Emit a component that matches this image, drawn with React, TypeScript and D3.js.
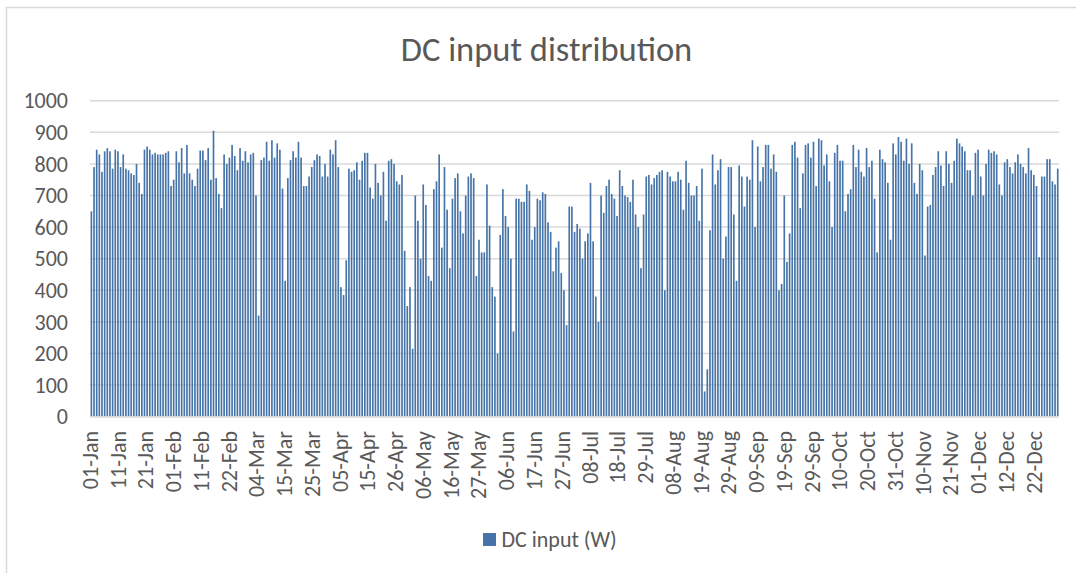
import React from "react";
import * as d3 from "d3";

// Daily peak DC input (W), one value per day
const jan = [650,790,845,830,775,840,850,840,785,845,840,790,830,785,780,770,765,800,740,705,845,855,845,830,835,830,830,830,835,840,730];
const feb = [750,840,805,850,770,860,770,750,730,785,842,842,812,850,750,905,755,705,660,830,800,820,860,825,780,850,810,840];
const mar = [805,830,835,700,320,812,820,870,810,875,820,865,845,722,430,755,812,840,820,870,820,730,730,760,790,812,830,825,760,800,760];
const apr = [845,830,875,790,410,385,495,785,775,780,805,750,810,835,835,725,690,800,740,700,775,620,810,815,800,745,735,765,525,350];
const may = [410,215,700,620,500,735,670,445,430,720,745,830,535,790,655,470,690,755,770,650,580,700,760,770,755,445,560,520,520,735,605];
const jun = [410,380,200,575,720,635,600,500,270,690,690,680,680,735,715,560,600,690,685,710,705,615,585,460,535,555,455,400,290,665];
const jul = [665,585,610,595,500,555,580,740,555,380,300,700,645,730,750,705,690,635,780,730,700,695,680,750,640,600,470,640,760,765,735];
const aug = [755,765,775,780,400,775,760,745,745,775,750,655,810,740,700,700,730,620,785,80,150,590,830,735,780,815,500,570,790,790,640];
const sep = [430,795,760,665,760,750,875,600,855,745,790,860,860,785,830,775,400,420,700,490,580,860,870,820,660,770,860,865,820,870];
const oct = [730,880,875,795,830,745,600,835,860,810,810,650,705,720,860,790,845,775,760,850,790,810,690,520,845,815,805,740,560,865,830];
const nov = [885,870,810,880,800,865,740,705,800,780,510,665,670,765,790,840,795,730,840,800,740,810,880,865,855,840,780,780,700,835];
const dec = [845,760,700,800,845,835,840,830,735,700,805,815,790,770,805,830,800,790,770,850,780,765,730,505,760,760,815,815,745,735,785];

const dailyPeak = [...jan, ...feb, ...mar, ...apr, ...may, ...jun, ...jul, ...aug, ...sep, ...oct, ...nov, ...dec];

const xTickLabels = ["01-Jan","11-Jan","21-Jan","01-Feb","11-Feb","22-Feb","04-Mar","15-Mar","25-Mar","05-Apr","15-Apr","26-Apr","06-May","16-May","27-May","06-Jun","17-Jun","27-Jun","08-Jul","18-Jul","29-Jul","08-Aug","19-Aug","29-Aug","09-Sep","19-Sep","29-Sep","10-Oct","20-Oct","31-Oct","10-Nov","21-Nov","01-Dec","12-Dec","22-Dec"];
const yTicks = [0,100,200,300,400,500,600,700,800,900,1000];

const title = "DC input distribution";
const seriesName = "DC input (W)";

const HOURS = 8760;
const LABEL_INTERVAL = 251; // hours between category labels
const SUN_START = 5;
const SUN_END = 20;

const W = 1076, H = 573;
const M = { left: 90, right: 1059, top: 100.7, bottom: 416.7 };
const FONT = "Calibri, Carlito, Lato, sans-serif";
const TEXT = "#595959";
const GRID = "#d9d9d9";
const BAR = "#4674a8";
const FS = 22;

export default function App() {
  const x = d3.scaleLinear().domain([0, HOURS]).range([M.left, M.right]);
  const y = d3.scaleLinear().domain([0, 1000]).range([M.bottom, M.top]);

  return (
    <svg width={W} height={H} style={{ position: "absolute", left: 0, top: 0, background: "#fff" }} fontFamily={FONT}>
      <rect x={6.5} y={7.5} width={W + 10} height={H + 10} fill="#fff" stroke={GRID} strokeWidth={1.5} />
      <text x={546.5} y={61} textAnchor="middle" fontSize={34.5} fill={TEXT}>{title}</text>
      {yTicks.map((t) => (
        <g key={t}>
          <line x1={M.left} x2={M.right} y1={y(t)} y2={y(t)} stroke={GRID} strokeWidth={1.5} />
          <text x={68} y={y(t)} dy="0.35em" textAnchor="end" fontSize={FS} fill={TEXT}>{t}</text>
        </g>
      ))}
      <g>
        {dailyPeak.map((v, d) => {
          const x0 = x(d * 24 + SUN_START);
          const x1 = x(d * 24 + SUN_END);
          return <rect key={d} x={x0} width={x1 - x0} y={y(v)} height={y(0) - y(v)} fill={BAR} />;
        })}
      </g>
      <line x1={M.left} x2={M.right} y1={y(0)} y2={y(0)} stroke={GRID} strokeWidth={1.5} />
      {xTickLabels.map((lab, i) => {
        const cx = x(i * LABEL_INTERVAL + 0.5);
        return (
          <text key={lab} transform={`translate(${cx},431) rotate(-90)`} dy="0.35em" textAnchor="end" fontSize={FS} fill={TEXT}>{lab}</text>
        );
      })}
      <rect x={483} y={533} width={13} height={13} fill={BAR} />
      <text x={501.5} y={546.5} fontSize={FS} fill={TEXT}>{seriesName}</text>
    </svg>
  );
}
